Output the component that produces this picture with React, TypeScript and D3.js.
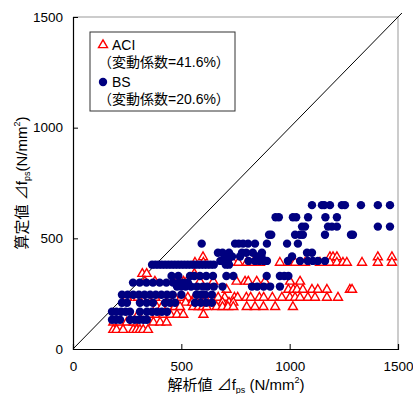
import React, { useRef, useEffect } from "react";
import * as d3 from "d3";

// values, grouped by the discrete y levels they sit on
const bsRows = [
  { y: 650, xs: [1103, 1149, 1160, 1186, 1241, 1255, 1329, 1407, 1463] },
  { y: 595, xs: [935, 950, 1015, 1030, 1085, 1165, 1218] },
  { y: 553, xs: [1057, 1071, 1177, 1195, 1218, 1407, 1463] },
  { y: 516, xs: [905, 915, 1025, 1048, 1061, 1163, 1283, 1292] },
  { y: 476, xs: [594, 748, 765, 785, 808, 840, 895, 988, 1038] },
  { y: 435, xs: [669, 690, 720, 780, 800, 830, 872, 1080, 1103] },
  { y: 418, xs: [700, 734, 771, 850, 870, 1011] },
  { y: 398, xs: [680, 715, 810, 840, 860, 880, 895, 992, 1048, 1084, 1107, 1130, 1163] },
  { y: 381, xs: [365, 380, 395, 410, 425, 440, 455, 470, 485, 500, 515, 530, 545, 560, 575, 590, 605, 620, 635, 650, 705, 720] },
  { y: 330, xs: [455, 486, 540, 560, 586, 615, 646, 708, 740, 894, 955, 975, 994] },
  { y: 300, xs: [277, 308, 339, 369, 400, 431, 462, 490, 510, 530] },
  { y: 282, xs: [480, 500, 520, 545, 572, 600, 620, 650, 690, 826, 850, 880, 910, 955] },
  { y: 245, xs: [226, 252, 278, 304, 330, 356, 382, 408, 434, 460, 500, 570, 590, 610, 641] },
  { y: 209, xs: [226, 249, 309, 340, 369, 425, 448, 471, 563, 590, 615, 641] },
  { y: 168, xs: [180, 200, 222, 243, 263, 309, 341, 365, 388, 410, 434] },
  { y: 132, xs: [180, 198, 217, 263, 285, 305, 325, 341] },
];

const aciRows = [
  { y: 415, xs: [600, 1186, 1200, 1218, 1407, 1472] },
  { y: 390, xs: [563, 602, 740, 763, 802, 832, 863, 955, 1002, 1025, 1071, 1140, 1186, 1218, 1246, 1264, 1334, 1407, 1472] },
  { y: 340, xs: [320, 340, 560] },
  { y: 305, xs: [332, 378, 463, 490, 510, 525, 586, 648, 755, 794, 809, 848, 886, 1002, 1048] },
  { y: 268, xs: [709, 994, 1017, 1034, 1061, 1103, 1130, 1172, 1278, 1288] },
  { y: 232, xs: [250, 300, 350, 380, 470, 500, 530, 560, 640, 670, 700, 745, 760, 800, 820, 860, 880, 920, 964, 1001, 1025, 1048, 1084, 1117, 1172, 1223] },
  { y: 210, xs: [430, 460, 520, 550, 600, 690, 720, 740] },
  { y: 190, xs: [386, 410, 440, 470, 494, 555, 580, 600, 617, 663, 690, 715, 740, 802, 840, 879, 933, 1015] },
  { y: 155, xs: [300, 355, 385, 415, 450, 480, 509, 602] },
  { y: 120, xs: [186, 215, 248, 280, 371, 402, 432] },
  { y: 87, xs: [186, 201, 231, 278, 294, 309, 324, 346] },
];

const ticks = [0, 500, 1000, 1500];
const legendItems = [
  { name: "ACI", cv: "（変動係数=41.6%）" },
  { name: "BS", cv: "（変動係数=20.6%）" },
];

const RED = "#ff0000";
const NAVY = "#000080";
const FONT = "'Liberation Sans', 'Noto Sans CJK JP', sans-serif";

export default function App() {
  const ref = useRef<SVGSVGElement>(null);

  useEffect(() => {
    const svg = d3.select(ref.current);
    svg.selectAll("*").remove();

    const margin = { top: 17, right: 15, bottom: 45, left: 73 };
    const width = 413;
    const height = 394;

    const x = d3.scaleLinear().domain([0, 1500]).range([margin.left, width - margin.right]);
    const y = d3.scaleLinear().domain([0, 1500]).range([height - margin.bottom, margin.top]);

    const flat = (rows: { y: number; xs: number[] }[]) =>
      rows.flatMap((r) => r.xs.map((v) => ({ x: v, y: r.y })));
    const aci = flat(aciRows);
    const bs = flat(bsRows);

    // frame: grey top/right, black axes
    svg.append("line")
      .attr("x1", x(0)).attr("x2", x(1500)).attr("y1", y(1500)).attr("y2", y(1500))
      .attr("stroke", "#999").attr("stroke-width", 1);
    svg.append("line")
      .attr("x1", x(1500)).attr("x2", x(1500)).attr("y1", y(1500)).attr("y2", y(0))
      .attr("stroke", "#999").attr("stroke-width", 1);

    // 1:1 line
    svg.append("line")
      .attr("x1", x(0)).attr("y1", y(0)).attr("x2", x(1518)).attr("y2", y(1518))
      .attr("stroke", "#000").attr("stroke-width", 1);

    const tri = d3.symbol().type(d3.symbolTriangle).size(35);

    svg.append("g")
      .selectAll("path")
      .data(aci)
      .join("path")
      .attr("transform", (d) => `translate(${x(d.x)},${y(d.y)})`)
      .attr("d", tri)
      .attr("fill", "#fff")
      .attr("stroke", RED)
      .attr("stroke-width", 1.4);

    svg.append("g")
      .selectAll("circle")
      .data(bs)
      .join("circle")
      .attr("cx", (d) => x(d.x))
      .attr("cy", (d) => y(d.y))
      .attr("r", 4.2)
      .attr("fill", NAVY);

    // axes
    const xAxis = svg.append("g").attr("transform", `translate(0,${y(0)})`)
      .call(d3.axisBottom(x).tickValues(ticks).tickSize(-5).tickPadding(12).tickFormat(d3.format("d")));
    const yAxis = svg.append("g").attr("transform", `translate(${x(0)},0)`)
      .call(d3.axisLeft(y).tickValues(ticks).tickSize(-5).tickPadding(10).tickFormat(d3.format("d")));
    [xAxis, yAxis].forEach((a) => {
      a.select(".domain").attr("stroke", "#000").attr("stroke-width", 1.2);
      a.selectAll(".tick line").attr("stroke", "#000");
      a.selectAll(".tick text").attr("font-family", FONT).attr("font-size", 13.5).attr("fill", "#000");
    });
    xAxis.selectAll(".tick").filter((d) => d === 0 || d === 1500).select("line").remove();
    yAxis.selectAll(".tick").filter((d) => d === 0 || d === 1500).select("line").remove();

    // axis titles
    const xt = svg.append("text")
      .attr("x", 236).attr("y", 390)
      .attr("text-anchor", "middle")
      .attr("font-family", FONT).attr("font-size", 15).attr("fill", "#000");
    xt.append("tspan").text("解析値 ⊿f");
    xt.append("tspan").attr("font-size", 9).attr("dy", 3).text("ps");
    xt.append("tspan").attr("dy", -3).text(" (N/mm");
    xt.append("tspan").attr("font-size", 9).attr("dy", -7).text("2");
    xt.append("tspan").attr("dy", 7).text(")");

    const yt = svg.append("text")
      .attr("transform", `translate(27,${183}) rotate(-90)`)
      .attr("text-anchor", "middle")
      .attr("font-family", FONT).attr("font-size", 15).attr("fill", "#000");
    yt.append("tspan").text("算定値  ⊿f");
    yt.append("tspan").attr("font-size", 9).attr("dy", 3).text("ps");
    yt.append("tspan").attr("dy", -3).text("(N/mm");
    yt.append("tspan").attr("font-size", 9).attr("dy", -7).text("2");
    yt.append("tspan").attr("dy", 7).text(")");

    // legend
    const lg = svg.append("g").attr("transform", "translate(90,32)");
    lg.append("rect")
      .attr("width", 145).attr("height", 79)
      .attr("fill", "#fff").attr("stroke", "#333").attr("stroke-width", 1);
    legendItems.forEach((item, i) => {
      const row = lg.append("g").attr("transform", `translate(0,${i * 37})`);
      if (i === 0) {
        row.append("path")
          .attr("transform", "translate(13,13)")
          .attr("d", tri)
          .attr("fill", "#fff").attr("stroke", RED).attr("stroke-width", 1.4);
      } else {
        row.append("circle").attr("cx", 13).attr("cy", 13).attr("r", 4.2).attr("fill", NAVY);
      }
      row.append("text")
        .attr("x", 22).attr("y", 18)
        .attr("font-family", FONT).attr("font-size", 14).attr("fill", "#000")
        .text(item.name);
      row.append("text")
        .attr("x", 8).attr("y", 35)
        .attr("font-family", FONT).attr("font-size", 14).attr("fill", "#000")
        .text(item.cv);
    });
  }, []);

  return (
    <svg
      ref={ref}
      width={413}
      height={394}
      style={{ position: "absolute", left: 0, top: 0, background: "#fff" }}
    />
  );
}
